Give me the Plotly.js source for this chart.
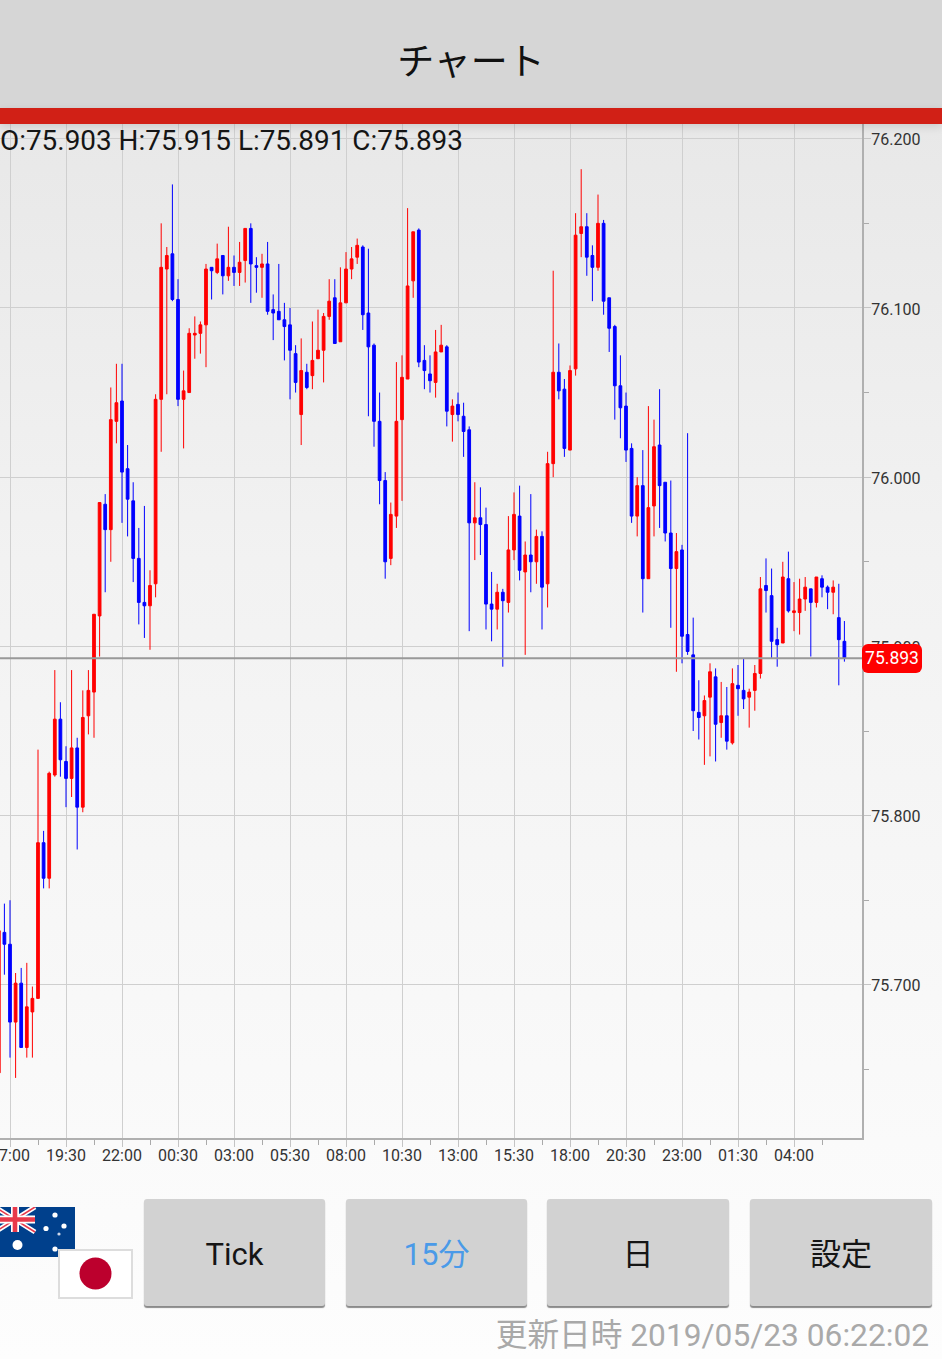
<!DOCTYPE html>
<html>
<head>
<meta charset="utf-8">
<script src="https://cdn.plot.ly/plotly-3.0.1.min.js"></script>
<style>
html,body{margin:0;padding:0}
body{width:942px;height:1359px;overflow:hidden;position:relative;font-family:Roboto,sans-serif;
  background:linear-gradient(#e8e8e8 124px,#f2f2f2 560px,#fdfdfd 1359px)}
#chart{position:absolute;left:0;top:0;width:942px;height:1359px}
#head{position:absolute;left:0;top:0;width:942px;height:108px;background:#d6d6d6;text-align:center;
  font:37px/118px "Noto Sans CJK JP";color:#111}
#bar{position:absolute;left:0;top:108px;width:942px;height:16px;background:#d12016;box-shadow:0 3px 8px rgba(0,0,0,.12)}
#ohlc{position:absolute;left:0;top:123px;font-size:27.9px;line-height:35px;color:#151515;white-space:nowrap}
#badge{position:absolute;left:862px;width:60px;height:29px;border-radius:6px;background:#f00;color:#fff;font-size:17.5px;line-height:29px;text-align:center}
.btn{position:absolute;top:1199px;height:107px;background:#d2d2d2;border-radius:3px;box-shadow:0 2px 1px #8a8a8a;
  text-align:center;font:31px/111px Roboto,"Noto Sans CJK JP";color:#151515}
#upd{position:absolute;right:13px;top:1317px;font:31.7px/38px Roboto,"Noto Sans CJK JP";color:#a9a9a9;white-space:nowrap}
svg.flag{position:absolute}
</style>
</head>
<body>
<div id="chart"></div>
<div id="head">チャート</div>
<div id="bar"></div>
<div id="ohlc"></div>
<div id="badge"></div>
<svg class="flag" style="left:0;top:1207px" width="75" height="50" viewBox="5 0 75 50">
  <rect x="0" y="0" width="80" height="50" fill="#00408c"/>
  <path d="M0 0L40 25M40 0L0 25" stroke="#fff" stroke-width="5"/>
  <path d="M0 0L40 25M40 0L0 25" stroke="#e8394a" stroke-width="1.6"/>
  <path d="M20 0V25M0 12.5H40" stroke="#fff" stroke-width="8"/>
  <path d="M20 0V25M0 12.5H40" stroke="#e8394a" stroke-width="4.6"/>
  <circle cx="22.5" cy="38" r="5" fill="#fff"/>
  <circle cx="60" cy="8" r="2.6" fill="#fff"/>
  <circle cx="51" cy="21.5" r="2.6" fill="#fff"/>
  <circle cx="69" cy="19" r="2.6" fill="#fff"/>
  <circle cx="64" cy="27" r="1.6" fill="#cfd8ea"/>
  <circle cx="60" cy="42" r="2.6" fill="#fff"/>
</svg>
<svg class="flag" style="left:58px;top:1249px" width="75" height="50">
  <rect x="1" y="1" width="73" height="48" fill="#fff" stroke="#ddd" stroke-width="2"/>
  <circle cx="37.5" cy="24.5" r="16" fill="#bc002d"/>
</svg>
<div class="btn" style="left:144px;width:181px">Tick</div>
<div class="btn" style="left:346px;width:181px;color:#4a9ae8">15分</div>
<div class="btn" style="left:547px;width:182px">日</div>
<div class="btn" style="left:750px;width:182px">設定</div>
<div id="upd">更新日時 2019/05/23 06:22:02</div>

<script>
// 15 minute candles, oldest first
var opens = [
75.648,75.731,75.724,75.678,75.701,75.663,75.684,75.692,75.784,75.763,
75.824,75.857,75.832,75.822,75.840,75.805,75.859,75.873,75.918,75.984,
75.969,76.033,76.045,76.005,75.986,75.952,75.926,75.924,75.937,76.046,
76.123,76.132,76.105,76.046,76.050,76.084,76.085,76.090,76.124,76.121,
76.131,76.119,76.124,76.121,76.128,76.147,76.125,76.124,76.126,76.099,
76.098,76.093,76.090,76.073,76.037,76.062,76.060,76.070,76.075,76.095,
76.106,76.080,76.103,76.123,76.130,76.136,76.097,76.078,76.033,75.998,
75.952,75.977,76.034,76.058,76.116,76.146,76.069,76.061,76.056,76.074,
76.077,76.037,76.043,76.036,76.028,75.973,75.976,75.972,75.925,75.922,
75.932,75.926,75.957,75.977,75.944,75.954,75.950,75.965,75.937,76.008,
76.062,76.052,76.016,76.064,76.144,76.148,76.131,76.124,76.150,76.106,
76.089,76.054,76.042,76.017,75.977,75.995,75.940,75.983,76.019,75.997,
75.967,75.946,75.957,75.907,75.895,75.861,75.859,75.870,75.882,75.855,
75.859,75.843,75.877,75.874,75.870,75.874,75.884,75.936,75.930,75.904,
75.902,75.940,75.920,75.920,75.928,75.934,75.926,75.940,75.935,75.932,
75.917,75.903];
var highs = [
75.732,75.748,75.750,75.707,75.710,75.713,75.699,75.839,75.791,75.826,
75.886,75.867,75.841,75.886,75.846,75.874,75.886,75.919,75.985,75.990,
76.053,76.067,76.067,76.019,75.997,75.970,75.983,75.945,76.049,76.150,
76.136,76.173,76.117,76.063,76.088,76.095,76.092,76.126,76.124,76.138,
76.131,76.148,76.131,76.139,76.147,76.150,76.130,76.132,76.139,76.108,
76.126,76.103,76.100,76.078,76.082,76.067,76.092,76.099,76.097,76.117,
76.117,76.124,76.133,76.136,76.141,76.137,76.135,76.079,76.050,76.003,
75.985,76.068,76.072,76.159,76.145,76.147,76.078,76.072,76.087,76.090,
76.078,76.046,76.050,76.044,76.030,75.997,75.994,75.982,75.944,75.937,
75.934,75.977,75.991,75.995,75.962,75.990,75.969,75.968,76.015,76.122,
76.079,76.058,76.066,76.156,76.182,76.156,76.137,76.167,76.152,76.106,
76.090,76.072,76.050,76.020,76.000,76.016,76.042,76.034,76.052,75.997,
75.998,75.967,75.960,76.026,75.917,75.880,75.871,75.890,75.887,75.879,
75.876,75.887,75.889,75.893,75.875,75.889,75.941,75.952,75.946,75.911,
75.950,75.956,75.938,75.940,75.941,75.934,75.941,75.942,75.936,75.939,
75.937,75.915];
var lows = [
75.647,75.706,75.657,75.645,75.663,75.657,75.657,75.692,75.757,75.757,
75.823,75.823,75.805,75.811,75.780,75.802,75.848,75.846,75.894,75.932,
75.950,76.020,75.973,75.965,75.938,75.913,75.905,75.898,75.929,76.015,
76.049,76.104,76.042,76.017,76.050,76.070,76.073,76.065,76.105,76.120,
76.108,76.116,76.113,76.113,76.115,76.103,76.109,76.106,76.096,76.081,
76.093,76.069,76.046,76.050,76.019,76.052,76.052,76.070,76.056,76.093,
76.079,76.080,76.103,76.117,76.126,76.087,76.036,76.018,75.984,75.940,
75.948,75.970,75.986,76.058,76.106,76.065,76.052,76.050,76.047,76.074,
76.030,76.021,76.033,76.012,75.909,75.951,75.954,75.910,75.903,75.910,
75.888,75.920,75.951,75.939,75.895,75.932,75.937,75.910,75.923,76.000,
76.046,76.012,76.016,76.060,76.130,76.119,76.104,76.122,76.096,76.074,
76.034,76.023,76.009,75.973,75.965,75.920,75.940,75.965,75.970,75.962,
75.911,75.885,75.890,75.895,75.850,75.845,75.830,75.835,75.832,75.846,
75.839,75.842,75.859,75.863,75.852,75.862,75.881,75.920,75.893,75.888,
75.902,75.920,75.909,75.907,75.921,75.894,75.923,75.929,75.922,75.919,
75.877,75.891];
var closes = [
75.732,75.724,75.678,75.701,75.663,75.687,75.692,75.784,75.763,75.825,
75.857,75.833,75.822,75.840,75.805,75.858,75.874,75.919,75.985,75.969,
76.034,76.044,76.003,75.987,75.952,75.926,75.924,75.936,76.046,76.124,
76.131,76.105,76.046,76.051,76.085,76.085,76.090,76.123,76.122,76.129,
76.119,76.124,76.121,76.127,76.147,76.126,76.124,76.126,76.098,76.097,
76.093,76.089,76.075,76.056,76.063,76.053,76.069,76.075,76.095,76.104,
76.079,76.103,76.123,76.129,76.137,76.096,76.077,76.033,75.998,75.950,
75.978,76.033,76.059,76.113,76.145,76.068,76.063,76.057,76.074,76.078,
76.039,76.042,76.037,76.027,75.973,75.976,75.972,75.925,75.922,75.932,
75.927,75.957,75.978,75.945,75.954,75.950,75.965,75.935,76.008,76.062,
76.051,76.017,76.063,76.143,76.148,76.130,76.124,76.150,76.104,76.088,
76.054,76.041,76.016,75.977,75.995,75.940,75.982,76.018,75.995,75.967,
75.946,75.956,75.906,75.897,75.862,75.858,75.868,75.885,75.854,75.859,
75.844,75.878,75.875,75.869,75.873,75.884,75.934,75.933,75.903,75.901,
75.941,75.921,75.921,75.928,75.935,75.926,75.941,75.935,75.932,75.935,
75.904,75.893];

// the label sits on every 10th candle, the first one shown is candle 2
var timeLabels = ['17:00','19:30','22:00','00:30','03:00','05:30','08:00','10:30','13:00','15:30','18:00','20:30','23:00','01:30','04:00'];

var candleX = closes.map(function(v, i){ return i - 2; });
var tickX = timeLabels.map(function(t, i){ return i * 10; });
var last = closes.length - 1;

var trace = {
  type: 'candlestick',
  x: candleX,
  open: opens, high: highs, low: lows, close: closes,
  increasing: {line: {color: '#ff0000', width: 1}, fillcolor: '#ff0000'},
  decreasing: {line: {color: '#0000ff', width: 1}, fillcolor: '#0000ff'},
  whiskerwidth: 0,
  hoverinfo: 'skip'
};

var layout = {
  width: 942, height: 1359,
  margin: {l: 0, r: 80, t: 124, b: 221, pad: 0},
  paper_bgcolor: 'rgba(0,0,0,0)',
  plot_bgcolor: 'rgba(0,0,0,0)',
  showlegend: false,
  boxgap: 0.3,
  font: {family: 'Roboto', size: 16, color: '#333'},
  xaxis: {
    type: 'linear',
    range: [-1.786, 152.143],
    rangeslider: {visible: false},
    tickmode: 'array', tickvals: tickX, ticktext: timeLabels,
    ticklabeloverflow: 'allow',
    ticklabelstandoff: -5,
    ticks: 'outside', ticklen: 7, tickcolor: '#c4c4c4', tickwidth: 1,
    showgrid: true, gridcolor: '#cfcfcf', gridwidth: 1, zeroline: false,
    showline: true, linecolor: '#b0b0b0', linewidth: 2,
    minor: {tickmode: 'linear', tick0: 5, dtick: 10, ticks: 'outside', ticklen: 5, tickcolor: '#aaa', showgrid: false}
  },
  yaxis: {
    side: 'right',
    range: [75.6095, 76.2087],
    tickmode: 'linear', tick0: 75.6, dtick: 0.1, tickformat: '.3f',
    ticklabelstandoff: -3,
    ticklabelshift: 1,
    ticks: 'outside', ticklen: 7, tickcolor: '#c4c4c4', tickwidth: 1,
    showgrid: true, gridcolor: '#cfcfcf', gridwidth: 1, zeroline: false,
    showline: true, linecolor: '#b0b0b0', linewidth: 2,
    minor: {tickmode: 'linear', tick0: 75.65, dtick: 0.1, ticks: 'outside', ticklen: 5, tickcolor: '#aaa', showgrid: false}
  },
  shapes: [{
    type: 'line', xref: 'paper', yref: 'y', x0: 0, x1: 1, y0: closes[last], y1: closes[last],
    line: {color: '#999', width: 2}
  }]
};

Plotly.newPlot('chart', [trace], layout, {staticPlot: true, displayModeBar: false}).then(function(gd){
  var ya = gd._fullLayout.yaxis;
  var badge = document.getElementById('badge');
  badge.textContent = closes[last].toFixed(3);
  badge.style.top = (ya._offset + ya.d2p(closes[last]) - 14.5) + 'px';
});

document.getElementById('ohlc').textContent =
  'O:' + opens[last].toFixed(3) + ' H:' + highs[last].toFixed(3) + ' L:' + lows[last].toFixed(3) + ' C:' + closes[last].toFixed(3);
</script>
</body>
</html>
